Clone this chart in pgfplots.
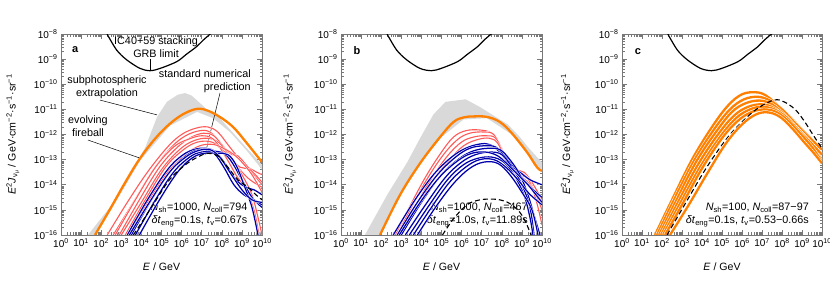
\documentclass[border=0pt]{standalone}
\usepackage{fontspec}
\setmainfont{Liberation Sans}
\usepackage{pgfplots}
\pgfplotsset{compat=1.18}
\definecolor{cOr}{RGB}{255,128,0}
\definecolor{cRed}{RGB}{255,90,90}
\definecolor{cBlue}{RGB}{0,0,175}
\definecolor{cGrey}{RGB}{217,217,217}
\definecolor{cFrame}{RGB}{120,120,120}
\def\minx{0.30103}
\foreach \d in {0,...,9}{\foreach \k in {2,...,9}{\pgfmathparse{\d+log10(\k)}\xdef\minx{\minx,\pgfmathresult}}}
\def\miny{-15.69897}
\foreach \d in {-16,...,-9}{\foreach \k in {2,...,9}{\pgfmathparse{\d+log10(\k)}\xdef\miny{\miny,\pgfmathresult}}}
\newcommand\sub[1]{\textsubscript{#1}}
\newcommand\sups[1]{\textsuperscript{#1}}
\tikzset{
  ann/.style={font=\fontsize{10.8}{13}\selectfont, align=center, inner sep=1pt},
  plab/.style={font=\fontsize{11}{12}\selectfont\bfseries},
}
\pgfplotsset{
  panel/.style={
    scale only axis, width=201pt, height=201pt,
    xmin=0, xmax=10, ymin=-16, ymax=-8,
    xtick={0,1,2,3,4,5,6,7,8,9,10}, ytick={-16,-15,-14,-13,-12,-11,-10,-9,-8},
    xticklabels={10\sups{0},10\sups{1},10\sups{2},10\sups{3},10\sups{4},10\sups{5},10\sups{6},10\sups{7},10\sups{8},10\sups{9},10\sups{10}},
    yticklabels={10\sups{−16},10\sups{−15},10\sups{−14},10\sups{−13},10\sups{−12},10\sups{−11},10\sups{−10},10\sups{−9},10\sups{−8}},
    minor xtick/.expanded=\minx, minor ytick/.expanded=\miny,
    tick align=inside, major tick length=5pt, minor tick length=2.5pt,
    axis line style={cFrame, line width=0.6pt}, tick style={cFrame, line width=0.5pt},
    ticklabel style={font=\fontsize{10}{10}\selectfont},
    xticklabel style={inner xsep=0pt},
    xlabel={\textit{E} / GeV},
    ylabel={\textit{E}\sups{2}\textit{J}\sub{ν\sub{μ}} / GeV·cm\sups{−2}·s\sups{−1}·sr\sups{−1}},
    label style={font=\fontsize{10.6}{12}\selectfont},
    xlabel style={at={(axis description cs:0.5,-0.16)}, anchor=center},
    anchor=south west,
  },
  redc/.style={cRed, line width=1.1pt, smooth, tension=0.6, preaction={draw=white, line width=1.9pt}},
  bluec/.style={cBlue, line width=1.25pt, smooth, tension=0.6, preaction={draw=white, line width=2.1pt}},
  orc/.style={cOr, line width=2.3pt, smooth, tension=0.6},
  orw/.style={cOr, line width=2.3pt, smooth, tension=0.6, preaction={draw=white, line width=3.3pt}},
  dashc/.style={black, line width=1.1pt, smooth, tension=0.6, dash pattern=on 5pt off 3pt},
  limc/.style={black, line width=1.2pt, smooth, tension=0.5},
}
\begin{document}
\begin{tikzpicture}
\path[use as bounding box] (0,0) rectangle (830pt,291pt);
% ---------------- panel a
\begin{axis}[panel, at={(61pt,56pt)}, ylabel style={at={(axis description cs:-0.239,0.5)}, anchor=center}]
\addplot[fill=cGrey, draw=none] coordinates {(1.34,-16) (2.44,-14.89) (3.58,-13.4) (4.2,-12.5) (4.78,-11.3) (5.27,-10.7) (5.8,-10.42) (6.17,-10.35) (6.5,-10.45) (7.26,-11.0) (7.76,-11.22) (8.41,-11.8) (9.25,-12.55) (10,-13.2) (10,-13.4) (9.25,-12.65) (8.41,-11.9) (7.56,-11.35) (6.77,-11.1) (5.42,-11.65) (3.93,-13.05) (2.42,-15.1) (1.69,-16)};
\draw[black, line width=0.5pt] (axis cs:1.94,-10.63) -- (axis cs:4.78,-11.22);
\draw[black, line width=0.5pt] (axis cs:1.34,-12.22) -- (axis cs:3.93,-12.94);
\draw[black, line width=0.5pt] (axis cs:7.91,-10.35) -- (axis cs:7.16,-12.82);
\draw[black, line width=0.5pt] (axis cs:4.43,-8.98) -- (axis cs:4.43,-9.42);
\node[ann] at (axis cs:2.29,-10.13) {subphotospheric\\extrapolation};
\node[ann] at (axis cs:1.34,-11.66) {evolving\\fireball};
\node[ann, align=right, anchor=east] at (axis cs:9.5,-9.89) {standard numerical\\prediction};
\node[ann, align=right, anchor=east] at (axis cs:9.33,-15.2) {\textit{N}\sub{sh}=1000, \textit{N}\sub{coll}=794\\\textit{δt}\sub{eng}=0.1s, \textit{t}\sub{v}=0.67s};
\node[plab] at (axis cs:0.7,-8.64) {a};
\addplot[limc] coordinates {(2.29,-8.0) (2.77,-8.64) (3.27,-9.03) (3.93,-9.37) (4.43,-9.46) (4.93,-9.37) (5.76,-9.1) (6.25,-8.8) (6.75,-8.5) (7.08,-8.24) (7.5,-7.95)};
\node[ann] at (axis cs:4.73,-8.54) {IC40+59 stacking\\GRB limit};
\addplot[orc] coordinates {(1.69,-16) (2.42,-15.0) (3.2,-13.9) (3.93,-12.95) (4.7,-12.15) (5.42,-11.57) (6.1,-11.18) (6.77,-10.98) (7.3,-11.05) (7.9,-11.3) (8.56,-11.7) (9.2,-12.3) (9.9,-13.0) (10,-13.1)};
\addplot[redc] coordinates {(2.3,-16) (3.3,-14.7) (4.3,-13.5) (5.3,-12.5) (6.0,-12.0) (6.7,-11.75) (7.3,-11.7) (7.8,-11.9) (8.3,-12.4) (8.8,-12.9) (9.3,-13.3) (10,-13.6)};
\addplot[redc] coordinates {(2.6,-16) (3.6,-14.7) (4.6,-13.4) (5.5,-12.5) (6.2,-12.05) (6.9,-11.85) (7.4,-11.9) (7.9,-12.3) (8.4,-12.9) (8.9,-13.4) (9.4,-13.8) (10,-14.1)};
\addplot[redc] coordinates {(2.9,-16) (3.9,-14.6) (4.9,-13.3) (5.8,-12.5) (6.5,-12.1) (7.1,-11.95) (7.6,-12.05) (8.1,-12.5) (8.5,-12.8) (8.8,-12.85) (9.2,-13.2) (10,-14.0)};
\addplot[redc] coordinates {(3.0,-16) (4.0,-14.7) (5.0,-13.4) (5.9,-12.6) (6.6,-12.25) (7.3,-12.15) (7.9,-12.35) (8.4,-12.9) (8.9,-13.3) (9.4,-13.4) (10,-13.9)};
\addplot[redc] coordinates {(3.2,-16) (4.2,-14.6) (5.2,-13.3) (6.1,-12.6) (6.8,-12.3) (7.5,-12.3) (8.0,-12.6) (8.5,-13.0) (9.0,-13.6) (9.5,-14.4) (9.8,-15.3) (10,-16)};
\addplot[redc] coordinates {(2.7,-16) (3.7,-14.6) (4.7,-13.3) (5.6,-12.5) (6.3,-12.2) (7.0,-12.05) (7.6,-12.2) (8.2,-12.9) (8.7,-13.6) (9.2,-14.2) (9.6,-15.0) (9.85,-16)};
\addplot[redc] coordinates {(3.3,-16) (4.3,-14.7) (5.3,-13.5) (6.2,-12.8) (6.9,-12.45) (7.6,-12.4) (8.2,-12.6) (8.6,-12.8) (9.0,-13.1) (9.5,-13.6) (10,-14.3)};
\addplot[bluec] coordinates {(3.3,-16) (4.3,-14.6) (5.3,-13.4) (6.0,-12.85) (6.6,-12.6) (7.2,-12.55) (7.7,-12.7) (8.2,-13.2) (8.7,-13.8) (9.2,-14.1) (9.6,-14.2) (10,-14.4)};
\addplot[bluec] coordinates {(3.5,-16) (4.5,-14.6) (5.5,-13.4) (6.3,-12.8) (6.9,-12.6) (7.5,-12.65) (8.1,-12.75) (8.5,-13.1) (9.0,-13.8) (9.5,-14.5) (10,-14.9)};
\addplot[bluec] coordinates {(3.7,-16) (4.7,-14.6) (5.6,-13.5) (6.4,-12.9) (7.0,-12.7) (7.6,-12.75) (8.1,-13.3) (8.6,-14.0) (9.1,-14.4) (9.6,-14.6) (10,-14.8)};
\addplot[bluec] coordinates {(3.9,-16) (4.9,-14.6) (5.8,-13.5) (6.5,-12.95) (7.1,-12.75) (7.8,-12.75) (8.3,-12.8) (8.7,-13.2) (9.1,-14.0) (9.5,-14.9) (9.8,-16)};
\addplot[bluec] coordinates {(3.4,-16) (4.4,-14.7) (5.4,-13.5) (6.2,-12.9) (6.8,-12.65) (7.4,-12.6) (7.9,-12.9) (8.4,-13.5) (9.0,-14.2) (9.5,-14.6) (10,-14.7)};
\addplot[dashc] coordinates {(3.6,-16) (4.5,-14.9) (5.4,-13.8) (6.2,-13.2) (6.8,-12.9) (7.3,-12.75) (7.8,-12.85) (8.3,-13.3) (8.8,-13.8) (9.3,-14.1) (9.7,-14.4) (10,-14.6)};
\end{axis}
% ---------------- panel b
\begin{axis}[panel, at={(341pt,56pt)}, ylabel style={at={(axis description cs:-0.254,0.5)}, anchor=center}]
\addplot[fill=cGrey, draw=none] coordinates {(1.19,-16) (2.3,-14.4) (3.3,-13.1) (3.9,-12.2) (4.6,-11.2) (5.2,-10.7) (6.2,-10.6) (6.9,-10.9) (7.6,-11.25) (8.3,-11.6) (8.9,-12.1) (9.3,-12.5) (9.75,-12.9) (10,-13.1) (10,-13.5) (9.25,-12.75) (8.5,-12.0) (7.26,-11.35) (6.1,-11.4) (4.93,-12.15) (3.93,-13.2) (2.94,-14.45) (1.94,-16)};
\node[ann, align=right, anchor=east] at (axis cs:9.35,-15.2) {\textit{N}\sub{sh}=1000, \textit{N}\sub{coll}=467\\\textit{δt}\sub{eng}=1.0s, \textit{t}\sub{v}=11.89s};
\node[plab] at (axis cs:0.8,-8.64) {b};
\addplot[limc] coordinates {(2.29,-8.0) (2.77,-8.64) (3.27,-9.03) (3.93,-9.37) (4.5,-9.46) (4.98,-9.37) (5.8,-9.1) (6.3,-8.8) (6.8,-8.5) (7.12,-8.24) (7.55,-7.95)};
\addplot[orc] coordinates {(1.94,-16) (2.94,-14.4) (3.93,-13.15) (4.93,-12.1) (5.6,-11.5) (6.1,-11.32) (6.6,-11.28) (7.26,-11.3) (7.9,-11.5) (8.5,-11.95) (9.25,-12.7) (9.75,-13.3) (10,-13.45)};
\addplot[redc] coordinates {(2.7,-16) (3.4,-14.9) (4.2,-13.7) (5.0,-12.7) (5.6,-12.1) (6.2,-11.85) (6.9,-11.82) (7.5,-11.95) (7.9,-12.4) (8.3,-13.1) (8.7,-13.4) (9.1,-13.5) (9.5,-13.9) (10,-14.6)};
\addplot[redc] coordinates {(2.8,-16) (3.5,-14.9) (4.3,-13.75) (5.1,-12.8) (5.8,-12.2) (6.4,-11.95) (7.1,-11.9) (7.6,-12.0) (8.0,-12.6) (8.4,-13.3) (8.8,-13.55) (9.2,-13.65) (9.6,-14.2) (10,-15.0)};
\addplot[redc] coordinates {(2.9,-16) (3.7,-14.85) (4.5,-13.75) (5.3,-12.85) (6.0,-12.3) (6.6,-12.1) (7.2,-12.05) (7.7,-12.15) (8.1,-12.8) (8.5,-13.4) (8.9,-13.65) (9.3,-13.75) (9.7,-14.6) (10,-15.6)};
\addplot[redc] coordinates {(3.0,-16) (3.8,-14.9) (4.6,-13.8) (5.4,-13.0) (6.1,-12.45) (6.8,-12.2) (7.4,-12.15) (7.8,-12.35) (8.2,-13.0) (8.6,-13.5) (9.0,-13.7) (9.4,-14.0) (10,-14.7)};
\addplot[bluec] coordinates {(2.6,-16) (3.6,-14.7) (4.6,-13.6) (5.5,-12.9) (6.2,-12.55) (6.9,-12.38) (7.4,-12.4) (7.9,-12.7) (8.4,-13.2) (8.9,-13.5) (9.4,-13.8) (10,-14.0)};
\addplot[bluec] coordinates {(2.8,-16) (3.8,-14.7) (4.8,-13.6) (5.7,-12.9) (6.4,-12.55) (7.1,-12.45) (7.7,-12.5) (8.2,-12.9) (8.7,-13.4) (9.2,-13.9) (9.7,-14.3) (10,-14.5)};
\addplot[bluec] coordinates {(3.0,-16) (4.0,-14.7) (5.0,-13.6) (5.9,-12.95) (6.6,-12.65) (7.3,-12.55) (7.9,-12.6) (8.4,-13.0) (8.9,-13.6) (9.3,-14.4) (9.6,-15.2) (9.9,-16)};
\addplot[bluec] coordinates {(3.2,-16) (4.2,-14.8) (5.2,-13.7) (6.0,-13.1) (6.7,-12.8) (7.4,-12.7) (8.0,-12.8) (8.5,-13.3) (9.0,-14.0) (9.4,-14.9) (9.6,-16)};
\addplot[bluec] coordinates {(3.4,-16) (4.4,-14.8) (5.3,-13.8) (6.1,-13.2) (6.8,-12.95) (7.5,-12.9) (8.1,-13.1) (8.6,-13.6) (9.1,-14.4) (9.4,-15.3) (9.55,-16)};
\addplot[bluec] coordinates {(2.9,-16) (3.9,-14.75) (4.9,-13.7) (5.8,-13.05) (6.5,-12.75) (7.2,-12.7) (7.8,-12.85) (8.3,-13.2) (8.8,-13.6) (9.3,-14.0) (9.7,-14.4) (10,-14.7)};
\addplot[bluec] coordinates {(3.6,-16) (4.5,-14.9) (5.4,-13.9) (6.2,-13.3) (6.9,-13.0) (7.6,-13.0) (8.2,-13.3) (8.8,-13.8) (9.3,-14.3) (9.7,-14.6) (10,-14.8)};
\addplot[bluec] coordinates {(3.8,-16) (4.7,-14.9) (5.6,-13.95) (6.4,-13.35) (7.1,-13.1) (7.8,-13.15) (8.4,-13.6) (9.0,-14.3) (9.5,-15.0) (9.8,-16)};
\addplot[dashc] coordinates {(5.05,-16) (5.6,-15.35) (6.27,-14.8) (6.8,-14.62) (7.3,-14.57) (7.9,-14.6) (8.4,-14.75) (8.9,-15.1) (9.25,-15.6) (9.5,-16.1)};
\end{axis}
% ---------------- panel c
\begin{axis}[panel, width=200pt, at={(622pt,56pt)}, ylabel style={at={(axis description cs:-0.273,0.5)}, anchor=center}]
\node[ann, align=right, anchor=east] at (axis cs:9.4,-15.2) {\textit{N}\sub{sh}=100, \textit{N}\sub{coll}=87−97\\\textit{δt}\sub{eng}=0.1s, \textit{t}\sub{v}=0.53−0.66s};
\node[plab] at (axis cs:0.8,-8.7) {c};
\addplot[limc] coordinates {(2.29,-8.0) (2.77,-8.64) (3.27,-9.03) (3.93,-9.37) (4.48,-9.46) (4.98,-9.37) (5.8,-9.1) (6.3,-8.8) (6.8,-8.5) (7.12,-8.24) (7.55,-7.95)};
\addplot[orw] coordinates {(1.65,-16) (2.5,-14.6) (3.5,-13.0) (4.5,-11.7) (5.3,-10.85) (6.0,-10.4) (6.7,-10.32) (7.2,-10.45) (7.8,-10.85) (8.4,-11.3) (9.0,-11.8) (9.5,-12.2) (10,-12.6)};
\addplot[orw] coordinates {(1.75,-16) (2.6,-14.6) (3.6,-13.05) (4.6,-11.8) (5.4,-11.0) (6.1,-10.6) (6.8,-10.5) (7.4,-10.65) (8.0,-11.0) (8.6,-11.5) (9.2,-12.0) (10,-12.6)};
\addplot[orw] coordinates {(1.85,-16) (2.7,-14.65) (3.7,-13.1) (4.7,-11.9) (5.5,-11.1) (6.2,-10.75) (6.9,-10.65) (7.5,-10.8) (8.1,-11.2) (8.7,-11.7) (9.3,-12.2) (10,-12.8)};
\addplot[orw] coordinates {(1.95,-16) (2.8,-14.7) (3.8,-13.2) (4.8,-12.0) (5.6,-11.25) (6.3,-10.9) (7.0,-10.8) (7.6,-10.95) (8.2,-11.35) (8.8,-11.9) (9.4,-12.4) (10,-13.0)};
\addplot[orw] coordinates {(2.05,-16) (2.9,-14.75) (3.9,-13.3) (4.9,-12.1) (5.7,-11.35) (6.4,-11.0) (7.0,-10.9) (7.6,-11.0) (8.2,-11.3) (8.8,-11.8) (9.4,-12.3) (10,-12.8)};
\addplot[orw] coordinates {(2.15,-16) (3.0,-14.8) (4.0,-13.35) (5.0,-12.15) (5.8,-11.45) (6.5,-11.1) (7.1,-11.0) (7.7,-11.1) (8.3,-11.45) (8.9,-11.95) (9.5,-12.5) (10,-13.1)};
\addplot[dashc] coordinates {(2.25,-16) (3.2,-14.7) (4.2,-13.35) (5.2,-12.2) (6.0,-11.5) (6.8,-10.95) (7.6,-10.63) (8.1,-10.7) (8.65,-11.0) (9.1,-11.45) (9.5,-11.95) (10,-12.55)};
\addplot[orw] coordinates {(2.4,-16) (3.3,-14.85) (4.3,-13.5) (5.2,-12.35) (6.0,-11.6) (6.7,-11.2) (7.3,-11.12) (7.9,-11.3) (8.5,-11.75) (9.1,-12.3) (9.6,-12.75) (10,-13.15)};
\end{axis}
\end{tikzpicture}
\end{document}
